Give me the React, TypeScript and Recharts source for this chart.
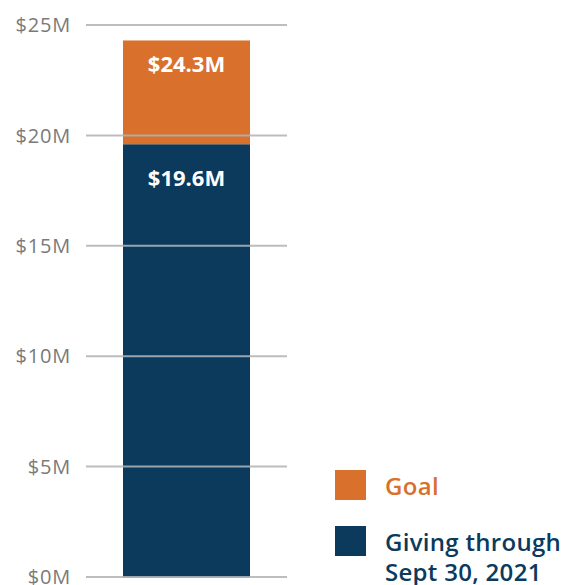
import { BarChart, Bar, XAxis, YAxis, LabelList, CartesianGrid } from "recharts";

const categories = ["Total"];
const givingValues = [19.6];
const goalValues = [24.3];
const yTicks = [0, 5, 10, 15, 20, 25];

const NAVY = "#0b3a5c";
const ORANGE = "#d9702b";
const GRID = "#bdbdbd";
const FONT = "'Open Sans', sans-serif";

const data = categories.map((name, i) => ({
  name,
  giving: givingValues[i],
  goalRest: +(goalValues[i] - givingValues[i]).toFixed(1),
  goal: goalValues[i],
}));

const legendItems = [
  { label: ["Goal"], color: ORANGE, top: 470 },
  { label: ["Giving through", "Sept 30, 2021"], color: NAVY, top: 526 },
];

// bar rect plus the gridlines that show through it in the reference
const gridBar = (fallbackLow: (p: any) => number, fallbackHigh: (p: any) => number, fill: string) => (props: any) => {
  const x = Number(props.x);
  const y = Number(props.y);
  const width = Number(props.width);
  const height = Number(props.height);
  const v = props.value;
  const p = props.payload || {};
  const low = Array.isArray(v) ? Number(v[0]) : fallbackLow(p);
  const high = Array.isArray(v) ? Number(v[1]) : fallbackHigh(p);
  const pxPer = height / (high - low);
  const lines = yTicks.filter((t) => t >= low && t < high);
  return (
    <g>
      <rect x={x} y={y} width={width} height={height} fill={fill} />
      {lines.map((t) => {
        const ty = y + height - (t - low) * pxPer;
        return (
          <line
            key={t}
            x1={x}
            x2={x + width}
            y1={ty}
            y2={ty}
            stroke="#a9b1b8"
            strokeOpacity={0.9}
            strokeWidth={2}
          />
        );
      })}
    </g>
  );
};

export default function App() {
  return (
    <div
      style={{
        position: "absolute",
        top: 0,
        left: 0,
        width: 569,
        height: 585,
        background: "#fff",
        fontFamily: FONT,
        overflow: "hidden",
      }}
    >
      <BarChart
        width={290}
        height={585}
        data={data}
        margin={{ top: 25, right: 3, bottom: 8, left: 0 }}
      >
        <CartesianGrid vertical={false} stroke={GRID} strokeWidth={2} />
        <XAxis dataKey="name" hide />
        <YAxis
          width={86}
          domain={[0, 25]}
          ticks={yTicks}
          interval={0}
          axisLine={false}
          tickLine={false}
          tickMargin={9}
          tickFormatter={(v) => `$${v}M`}
          tick={{ fill: "#7a7a7a", fontSize: 20, fontFamily: FONT, letterSpacing: 0.8 }}
        />
        <Bar
          dataKey="giving"
          stackId="a"
          fill={NAVY}
          barSize={127}
          shape={gridBar(() => 0, (p) => p.giving, NAVY)}
          isAnimationActive={false}
        >
          <LabelList
            dataKey="giving"
            position="insideTop"
            offset={26}
            formatter={(v: number) => `$${v}M`}
            fill="#fff"
            fontSize={22}
            fontWeight={700}
            fontFamily={FONT}
          />
        </Bar>
        <Bar
          dataKey="goalRest"
          stackId="a"
          fill={ORANGE}
          barSize={127}
          shape={gridBar((p) => p.giving, (p) => p.goal, ORANGE)}
          isAnimationActive={false}
        >
          <LabelList
            dataKey="goal"
            position="insideTop"
            offset={16}
            formatter={(v: number) => `$${v}M`}
            fill="#fff"
            fontSize={22}
            fontWeight={700}
            fontFamily={FONT}
          />
        </Bar>
      </BarChart>

      {legendItems.map((item) => (
        <div
          key={item.label[0]}
          style={{ position: "absolute", left: 335, top: item.top, display: "flex" }}
        >
          <div style={{ width: 31, height: 30, background: item.color, flexShrink: 0 }} />
          <div
            style={{
              marginLeft: 19,
              marginTop: 1,
              color: item.color,
              fontSize: 24,
              fontWeight: 600,
              lineHeight: "30px",
              whiteSpace: "nowrap",
              letterSpacing: 0.3,
            }}
          >
            {item.label.map((l) => (
              <div key={l}>{l}</div>
            ))}
          </div>
        </div>
      ))}
    </div>
  );
}
